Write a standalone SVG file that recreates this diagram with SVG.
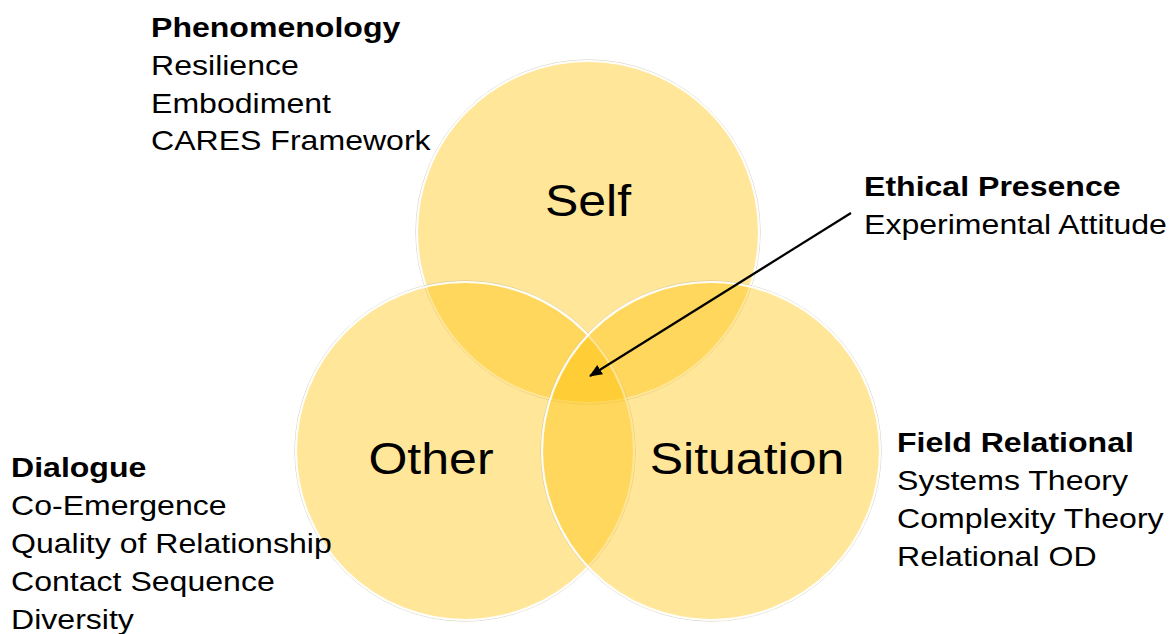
<svg xmlns="http://www.w3.org/2000/svg" width="1173" height="634" viewBox="0 0 1173 634">
<style>
.c{fill:#FFC000;fill-opacity:0.4;stroke:#ffffff;stroke-width:2.2;stroke-opacity:0.9}
.sh{fill:none;stroke:#bdb499;stroke-width:1;stroke-opacity:0.55}
.t{font-family:"Liberation Sans",Arial,sans-serif;font-size:28.5px;fill:#000}
.b{font-weight:bold}
.big{font-family:"Liberation Sans",Arial,sans-serif;font-size:44.7px;fill:#000;text-anchor:middle}
.arr{stroke:#000;stroke-width:2.2;fill:none}
</style>
<defs>
<marker id="ah" viewBox="0 0 13 11" refX="12" refY="5.5" markerWidth="13" markerHeight="11" markerUnits="userSpaceOnUse" orient="auto">
<path d="M0,0 L13,5.5 L0,11 z" fill="#000"/>
</marker>
</defs>
<rect width="1173" height="634" fill="#fff"/>
<g id="self">
<circle class="sh" cx="588" cy="232" r="172.2"/>
<circle class="c" cx="588" cy="232" r="171"/>
<g transform="translate(588,216) scale(1.12,1)"><text class="big" x="0" y="0">Self</text></g>
</g>
<g id="other">
<circle class="sh" cx="465" cy="451" r="170.2"/>
<circle class="c" cx="465" cy="451" r="169"/>
<g transform="translate(431,474) scale(1.12,1)"><text class="big" x="0" y="0">Other</text></g>
</g>
<g id="situation">
<circle class="sh" cx="711" cy="451" r="170.2"/>
<circle class="c" cx="711" cy="451" r="169"/>
<g transform="translate(747,474) scale(1.12,1)"><text class="big" x="0" y="0">Situation</text></g>
</g>
<g id="connectors">
<line class="arr" x1="851" y1="213" x2="590" y2="376" marker-end="url(#ah)"/>
</g>
<g id="phenomenology" transform="translate(151,37) scale(1.125,1)">
<text class="t b" x="0" y="0">Phenomenology</text>
<text class="t" x="0" y="38">Resilience</text>
<text class="t" x="0" y="76">Embodiment</text>
<text class="t" x="0" y="113">CARES Framework</text>
</g>
<g id="ethical-presence" transform="translate(864,196) scale(1.125,1)">
<text class="t b" x="0" y="0">Ethical Presence</text>
<text class="t" x="0" y="38">Experimental Attitude</text>
</g>
<g id="field-relational" transform="translate(897,452) scale(1.125,1)">
<text class="t b" x="0" y="0">Field Relational</text>
<text class="t" x="0" y="38">Systems Theory</text>
<text class="t" x="0" y="76">Complexity Theory</text>
<text class="t" x="0" y="114">Relational OD</text>
</g>
<g id="dialogue" transform="translate(11,477) scale(1.125,1)">
<text class="t b" x="0" y="0">Dialogue</text>
<text class="t" x="0" y="38">Co-Emergence</text>
<text class="t" x="0" y="76">Quality of Relationship</text>
<text class="t" x="0" y="114">Contact Sequence</text>
<text class="t" x="0" y="152">Diversity</text>
</g>
</svg>
